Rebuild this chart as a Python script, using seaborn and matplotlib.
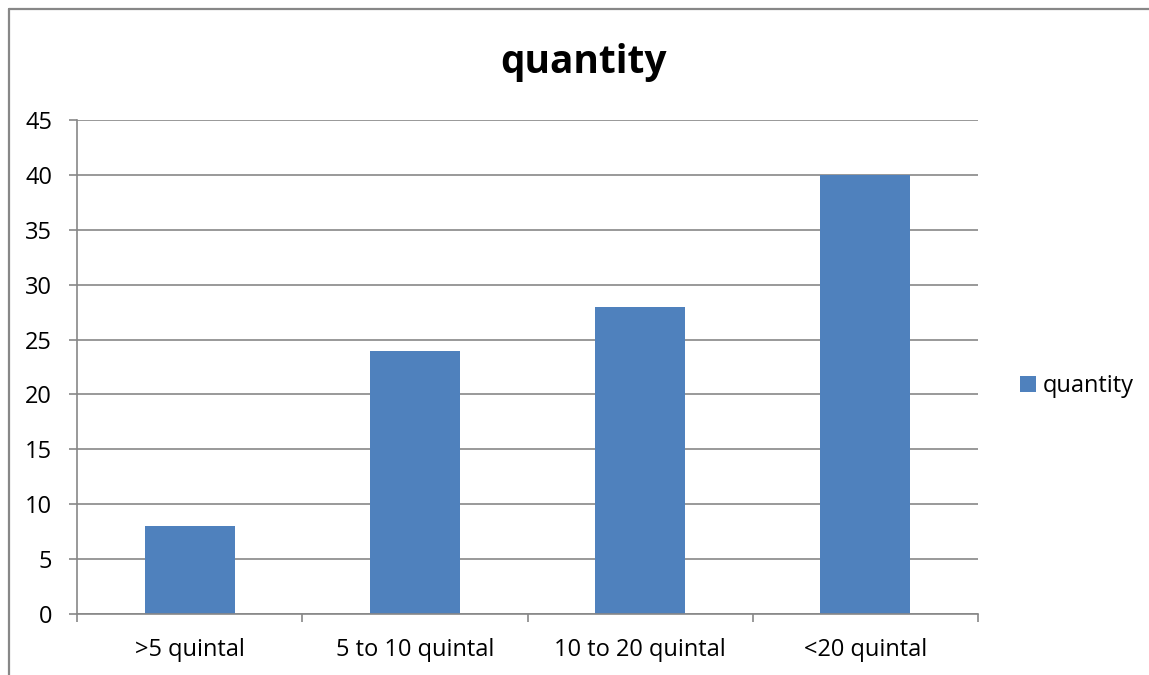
import matplotlib
matplotlib.use("Agg")
import matplotlib.pyplot as plt
import matplotlib.lines as mlines
import seaborn as sns
import pandas as pd

categories = [">5 quintal", "5 to 10 quintal", "10 to 20 quintal", "<20 quintal"]
quantity = [8, 24, 28, 40]
series_name = "quantity"

df = pd.DataFrame({"category": categories, "value": quantity, "series": series_name})

sns.set_style("white")
plt.rcParams["font.family"] = ["Open Sans", "DejaVu Sans"]

grey = "#878787"
bar_color = "#4F81BD"

fig = plt.figure(figsize=(11.49, 6.75), dpi=100)
ax = fig.add_axes([77 / 1149, 61 / 675, 901 / 1149, 494 / 675])

sns.barplot(data=df, x="category", y="value", hue="series", palette=[bar_color],
            width=0.4, saturation=1, linewidth=0, ax=ax)

ax.set_ylim(0, 45)
ax.set_xlim(-0.5, 3.5)
ax.set_yticks(range(0, 46, 5))
ax.yaxis.grid(True, color=grey, linewidth=1.2)
ax.set_axisbelow(True)
ax.set_xlabel("")
ax.set_ylabel("")

for side in ["top", "right"]:
    ax.spines[side].set_visible(False)
for side in ["left", "bottom"]:
    ax.spines[side].set_color(grey)
    ax.spines[side].set_linewidth(1.2)

ax.tick_params(axis="y", which="major", left=True, length=6, width=1.2, color=grey,
               labelsize=17, pad=12, labelcolor="black")
ax.tick_params(axis="x", which="major", bottom=False, labelsize=17, pad=14,
               labelcolor="black")
ax.set_xticks([-0.5, 0.5, 1.5, 2.5, 3.5], minor=True)
ax.tick_params(axis="x", which="minor", bottom=True, length=6, width=1.2, color=grey)

fig.text(583 / 1149, 1 - 62 / 675, "quantity", ha="center", va="center",
         fontsize=28, fontweight="bold", color="black")

leg = ax.legend(loc="center left", bbox_to_anchor=(999 / 1149, 1 - 386 / 675),
                bbox_transform=fig.transFigure, frameon=False, fontsize=17,
                handlelength=0.65, handleheight=0.65, handletextpad=0.3)
for t in leg.get_texts():
    t.set_color("black")

# outer chart border (top and left edges only are in view)
y_top = 1 - 8.5 / 675
x_left = 8.5 / 1149
fig.add_artist(mlines.Line2D([x_left, 1.01], [y_top, y_top], transform=fig.transFigure,
                             color=grey, linewidth=1.6))
fig.add_artist(mlines.Line2D([x_left, x_left], [-0.01, y_top], transform=fig.transFigure,
                             color=grey, linewidth=1.6))

fig.savefig("out.png", dpi=100)
